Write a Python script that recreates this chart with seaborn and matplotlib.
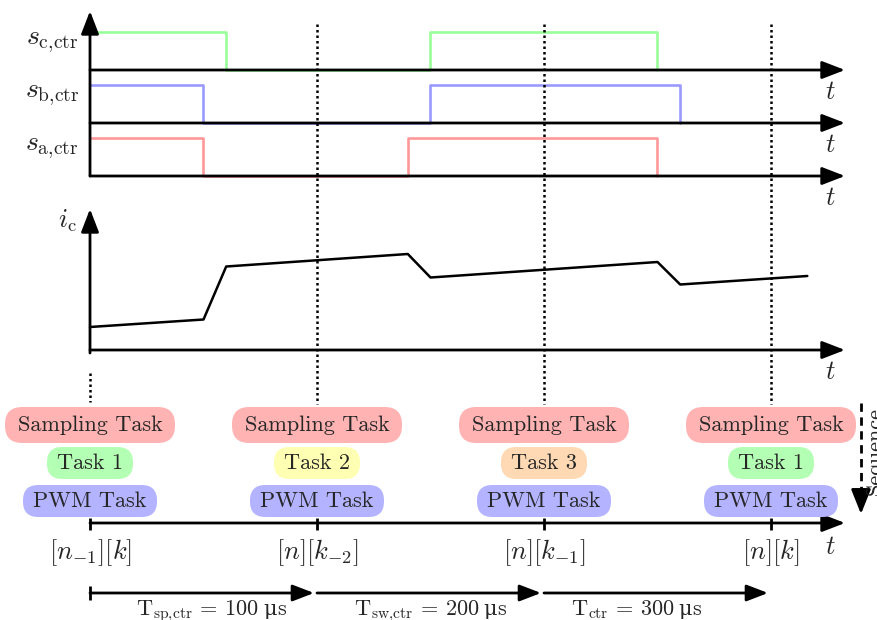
import matplotlib
matplotlib.use("Agg")
import matplotlib.pyplot as plt
from matplotlib.patches import FancyBboxPatch
import seaborn as sns

# ---- data -------------------------------------------------------------
# control periods (time in microseconds)
slot_times = [0, 100, 200, 300]
slot_labels = [r"$[n_{-1}][k]$", r"$[n][k_{-2}]$", r"$[n][k_{-1}]$", r"$[n][k]$"]
middle_tasks = ["Task 1", "Task 2", "Task 3", "Task 1"]
middle_colors = ["#b3ffb3", "#ffffb3", "#ffd9b3", "#b3ffb3"]
period_starts = [0, 100, 200]
period_ends = [100, 200, 300]
period_names = [r"T$_{\mathrm{sp{,}ctr}}$", r"T$_{\mathrm{sw{,}ctr}}$", r"T$_{\mathrm{ctr}}$"]
period_values = [100, 200, 300]

# switching signals: edge times and levels after each edge
sc_t = [0, 60, 150, 250]
sc_v = [1, 0, 1, 0]
sb_t = [0, 50, 150, 260]
sb_v = [1, 0, 1, 0]
sa_t = [0, 50, 140, 250]
sa_v = [1, 0, 1, 0]
signal_names = [r"$s_{\mathrm{c{,}ctr}}$", r"$s_{\mathrm{b{,}ctr}}$", r"$s_{\mathrm{a{,}ctr}}$"]
signal_colors = ["#99ff99", "#9999ff", "#ff9999"]

# capacitor current (arbitrary units)
ic_t = [0, 50, 60, 140, 150, 250, 260, 316]
ic_v = [23, 30.5, 83.5, 96, 72.5, 88, 65.5, 74]

# ---- style ------------------------------------------------------------
sns.set_style("white")
plt.rcParams["mathtext.fontset"] = "cm"
plt.rcParams["font.family"] = ["cmr10", "DejaVu Serif"]
plt.rcParams["axes.formatter.use_mathtext"] = True

W, H = 878, 620
PX_PER_US = 2.27
X0 = 90
XLIM = (-X0 / PX_PER_US, (W - X0) / PX_PER_US)
K = 1 / PX_PER_US          # one pixel in time units
T_END = (845 - X0) * K
T_LAB = (830 - X0) * K
BIG = 19
MID = 16


def row_frac(r):
    return 1 - r / H


fig = plt.figure(figsize=(W / 100, H / 100), dpi=100)

# overlay axes: time on x, rows on y
ax = fig.add_axes([0, 0, 1, 1], zorder=5)
ax.set_xlim(*XLIM)
ax.set_ylim(H, 0)
ax.axis("off")
ax.patch.set_alpha(0)


def panel(base_row, top_row, ymax):
    p = fig.add_axes([0, row_frac(base_row), 1, (base_row - top_row) / H], zorder=1)
    p.set_xlim(*XLIM)
    p.set_ylim(0, ymax)
    p.axis("off")
    p.patch.set_alpha(0)
    return p


def arrow(x0, y0, x1, y1, lw=2.0, hl=0.7, hw=0.27):
    ax.annotate("", xy=(x1, y1), xytext=(x0, y0),
                arrowprops=dict(arrowstyle=f"-|>,head_length={hl},head_width={hw}",
                                lw=lw, color="black",
                                mutation_scale=20, shrinkA=0, shrinkB=0))


def pill(xc, yc, w_px, h_px, color):
    w = w_px * K
    r = 0.48 * h_px * K
    ax.add_patch(FancyBboxPatch((xc - w / 2, yc - h_px / 2), w, h_px,
                                boxstyle=f"round,pad=0,rounding_size={r}",
                                mutation_aspect=PX_PER_US, fc=color, ec="none",
                                zorder=4))


# ---- switching signal panels -------------------------------------------
bases = [70, 123, 176]
for (t, v), name, col, base in zip([(sc_t, sc_v), (sb_t, sb_v), (sa_t, sa_v)],
                                   signal_names, signal_colors, bases):
    p = panel(base, base - 38, 1)
    sns.lineplot(x=t, y=v, ax=p, color=col, lw=1.9, estimator=None, sort=False,
                 drawstyle="steps-post", clip_on=False, legend=False)
    arrow(0, base, T_END, base)
    ax.text(T_LAB, base + 22, r"$t$", fontsize=BIG, ha="center", va="center")
    ax.text((52 - X0) * K, base - 28, name, fontsize=20, ha="center", va="center")

arrow(0, 176, 0, 11)

# ---- current panel ----------------------------------------------------
pc = panel(350, 250, 100)
sns.lineplot(x=ic_t, y=ic_v, ax=pc, color="black", lw=1.8, estimator=None,
             sort=False, clip_on=False, legend=False)
arrow(0, 353, 0, 209)
arrow(0, 350, T_END, 350)
ax.text(T_LAB, 372, r"$t$", fontsize=BIG, ha="center", va="center")
ax.text((67 - X0) * K, 221, r"$i_{\mathrm{c}}$", fontsize=BIG, ha="center", va="center")

# ---- dotted period markers --------------------------------------------
for ts in slot_times[1:]:
    ax.plot([ts, ts], [24, 404], color="black", lw=1.8, ls=(0, (1, 1.2)), zorder=3)
ax.plot([0, 0], [373, 402], color="black", lw=1.8, ls=(0, (1, 1.2)), zorder=3)

# ---- task boxes -------------------------------------------------------
for ts, task, col in zip(slot_times, middle_tasks, middle_colors):
    pill(ts, 425, 170, 36, "#ffb3b3")
    pill(ts, 463, 86, 32, col)
    pill(ts, 501, 134, 32, "#b3b3ff")
    ax.text(ts, 425, "Sampling Task", fontsize=MID, ha="center", va="center", zorder=6)
    ax.text(ts, 463, task, fontsize=MID, ha="center", va="center", zorder=6)
    ax.text(ts, 501, "PWM Task", fontsize=MID, ha="center", va="center", zorder=6)

# ---- sequence arrow ---------------------------------------------------
xs = (861 - X0) * K
ax.plot([xs, xs], [403, 497], color="black", lw=2, ls=(0, (3, 2)))
arrow(xs, 495, xs, 514, hl=0.75, hw=0.3)
ax.text((865 - X0) * K, 495, "Sequence", fontsize=MID, rotation=90,
        ha="left", va="bottom")

# ---- execution timeline -----------------------------------------------
arrow(0, 523, T_END, 523)
for ts, lab in zip(slot_times, slot_labels):
    ax.plot([ts, ts], [518, 530], color="black", lw=2, solid_capstyle="butt")
    ax.text(ts, 553, lab, fontsize=BIG, ha="center", va="center")
ax.text(T_LAB, 547, r"$t$", fontsize=BIG, ha="center", va="center")

# ---- period dimension arrows ------------------------------------------
ax.plot([0, 0], [586, 600], color="black", lw=2, solid_capstyle="butt")
for s, e in zip(period_starts, period_ends):
    arrow(s, 593, e - 3 * K, 593, hl=0.65, hw=0.25)

# period labels: name and value in Computer Modern, the micro sign in an
# upright serif face, all on one baseline and centred as a group
centers = [(211 - X0) * K, (430 - X0) * K, (636 - X0) * K]
renderer = fig.canvas.get_renderer()
inv = ax.transData.inverted()


def width_data(txt):
    bb = txt.get_window_extent(renderer)
    return inv.transform((bb.x1, 0))[0] - inv.transform((bb.x0, 0))[0]


for c, name, val in zip(centers, period_names, period_values):
    parts = [
        ax.text(0, 615, f"{name} = {val}", fontsize=MID, va="baseline", ha="left"),
        ax.text(0, 615, "μ", fontsize=MID - 1, va="baseline", ha="left",
                family="DejaVu Serif"),
        ax.text(0, 615, "s", fontsize=MID, va="baseline", ha="left"),
    ]
    gaps = [0, 4 * K, 0.5 * K]
    widths = [width_data(p) for p in parts]
    total = sum(widths) + sum(gaps)
    x = c - total / 2
    for p, w, g in zip(parts, widths, gaps):
        x += g
        p.set_x(x)
        x += w

fig.savefig("out.png", dpi=100)
